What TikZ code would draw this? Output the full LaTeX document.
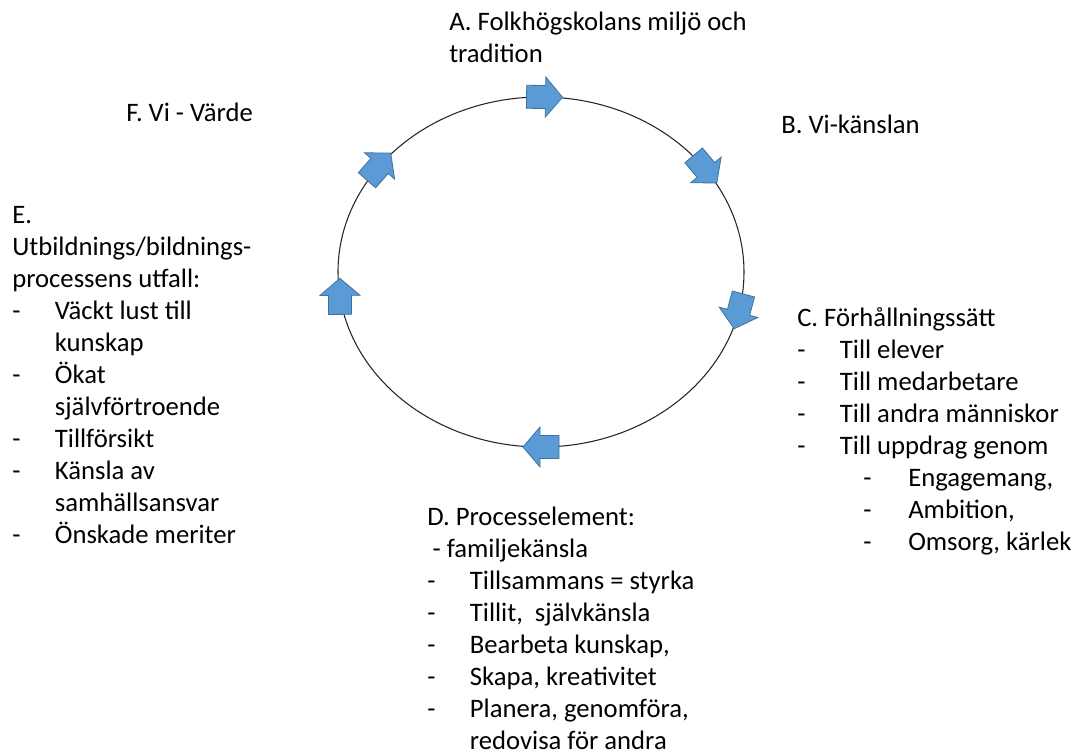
\documentclass[tikz,border=0pt]{standalone}
\usepackage{fontspec}
\setmainfont{Carlito}
\definecolor{arrowfill}{HTML}{5B9BD5}
\definecolor{arrowline}{HTML}{41719C}
\newcommand{\dl}[1]{\makebox[32pt][l]{-}#1}
\newcommand{\cl}[1]{\hspace*{32pt}#1}
\newcommand{\ddl}[1]{\hspace*{49.5pt}\makebox[33.75pt][l]{-}#1}

\begin{document}
\begin{tikzpicture}[x=0.75pt,y=-0.75pt,
		lbl/.style={anchor=north west,inner sep=0pt,align=left,font=\fontsize{20}{24}\selectfont},
		flow/.pic={\draw[arrowline,fill=arrowfill,line width=0.6pt] (-18,-11.5) -- (1,-11.5) -- (1,-20) -- (18,0) -- (1,20) -- (1,11.5) -- (-18,11.5) -- cycle;}]
		\useasboundingbox (0,0) rectangle (1076,751);
		\draw[line width=0.8pt,black!85] (541,272) ellipse [x radius=203, y radius=175];
		% arrows along the circle
		\foreach \t/\tilt in {89/0,36/0,-13/0,-90/0,188/-9,143/0}
			\pic[rotate={atan2(-175*cos(\t),203*sin(\t))+\tilt}] at ({541+203*cos(\t)},{272-175*sin(\t)}) {flow};
		% labels
		\node[lbl] (lbl-a) at (449,7.6) {\strut A. Folkhögskolans miljö och\\tradition};
		\node[lbl] (lbl-b) at (781,110.6) {\strut B. Vi-känslan};
		\node[lbl] (lbl-c) at (797,303.6) {\strut C. Förhållningssätt\\\dl{Till elever}\\\dl{Till medarbetare}\\\dl{Till andra människor}\\\dl{Till uppdrag genom}\\\ddl{Engagemang,}\\\ddl{Ambition,}\\\ddl{Omsorg, kärlek}};
		\node[lbl] (lbl-d) at (427,502.6) {\strut D. Processelement:\\\hspace*{4pt}- familjekänsla\\\dl{Tillsammans = styrka}\\\dl{Tillit,\ \ självkänsla}\\\dl{Bearbeta kunskap,}\\\dl{Skapa, kreativitet}\\\dl{Planera, genomföra,}\\\cl{redovisa för andra}};
		\node[lbl] (lbl-e) at (12,200.6) {\strut E.\\Utbildnings/bildnings-\\processens utfall:\\\dl{Väckt lust till}\\\cl{kunskap}\\\dl{Ökat}\\\cl{självförtroende}\\\dl{Tillförsikt}\\\dl{Känsla av}\\\cl{samhällsansvar}\\\dl{Önskade meriter}};
		\node[lbl] (lbl-f) at (126,98.6) {\strut F. Vi - Värde};
	\end{tikzpicture}
\end{document}
